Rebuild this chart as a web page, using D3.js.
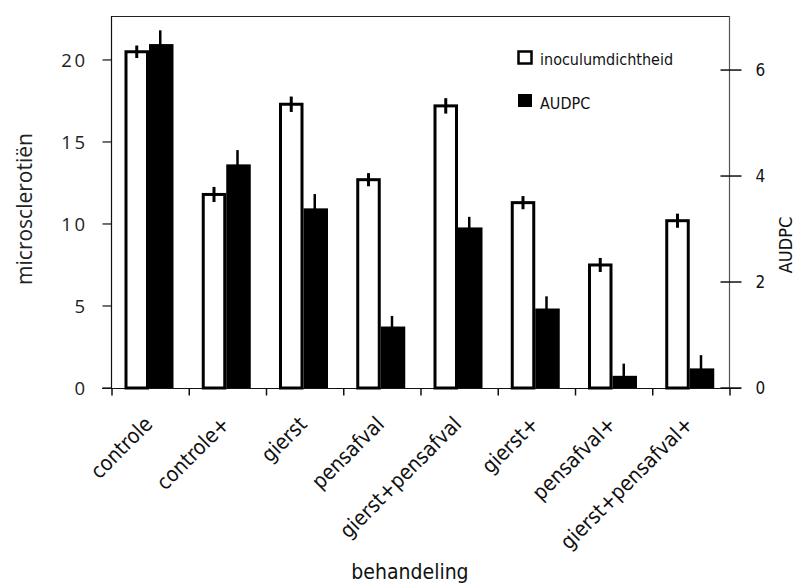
<!DOCTYPE html>
<html>
<head>
<meta charset="utf-8">
<script src="https://cdn.jsdelivr.net/npm/d3@7"></script>
<style>
  body { margin: 0; background: #fff; }
  svg { display: block; }
</style>
</head>
<body>
<div id="chart"></div>
<script>
// behandeling categories
const categories = ["controle", "controle+", "gierst", "pensafval", "gierst+pensafval", "gierst+", "pensafval+", "gierst+pensafval+"];
// inoculumdichtheid (microsclerotiën, left axis)
const inoculum = [20.5, 11.8, 17.3, 12.7, 17.2, 11.3, 7.5, 10.2];
const inoculumErr = [0.38, 0.46, 0.47, 0.4, 0.47, 0.4, 0.43, 0.43];
// AUDPC (right axis)
const audpc = [6.49, 4.22, 3.39, 1.16, 3.03, 1.5, 0.23, 0.37];
const audpcErr = [0.26, 0.27, 0.27, 0.2, 0.2, 0.23, 0.23, 0.25];
const leftTicks = [0, 5, 10, 15, 20];
const rightTicks = [0, 2, 4, 6];

const W = 798, H = 586;
const plot = { left: 111, right: 729, top: 16, bottom: 388 };
const condensed = "'DejaVu Sans Condensed', 'DejaVu Sans', sans-serif";
const calib = "'Open Sans', 'Noto Sans', sans-serif";

const svg = d3.select("#chart").append("svg")
  .attr("width", W).attr("height", H);

const x = d3.scaleBand()
  .domain(categories)
  .range([plot.left + 1, plot.right + 1])
  .paddingInner(0).paddingOuter(0);

const yL = d3.scaleLinear().domain([0, 22.68]).range([plot.bottom, plot.top]);
const yR = d3.scaleLinear().domain([0, 7.02]).range([plot.bottom, plot.top]);

// frame top line
svg.append("line")
  .attr("x1", plot.left).attr("x2", plot.right)
  .attr("y1", plot.top + 0.5).attr("y2", plot.top + 0.5)
  .attr("stroke", "#222").attr("stroke-width", 1);

// left axis
const gL = svg.append("g").attr("transform", `translate(${plot.left + 0.5},0)`);
gL.append("line").attr("y1", plot.top).attr("y2", plot.bottom)
  .attr("stroke", "#111").attr("stroke-width", 1.2);
gL.selectAll(".tk").data(leftTicks).enter().append("line")
  .attr("x1", -9).attr("x2", 0)
  .attr("y1", d => yL(d)).attr("y2", d => yL(d))
  .attr("stroke", "#111").attr("stroke-width", 1.2);
gL.selectAll(".lb").data(leftTicks).enter().append("text")
  .attr("x", -24).attr("y", d => yL(d)).attr("dy", "0.36em")
  .attr("text-anchor", "end")
  .style("font-family", calib).style("font-size", "18.5px")
  .style("letter-spacing", "2.5px")
  .attr("fill", "#222")
  .text(d => d);

// right axis
const gR = svg.append("g").attr("transform", `translate(${plot.right + 0.5},0)`);
gR.append("line").attr("y1", plot.top).attr("y2", plot.bottom)
  .attr("stroke", "#555").attr("stroke-width", 1.2);
gR.selectAll(".tk").data(rightTicks).enter().append("line")
  .attr("x1", -9).attr("x2", 12)
  .attr("y1", d => yR(d)).attr("y2", d => yR(d))
  .attr("stroke", "#111").attr("stroke-width", 1.5);
gR.selectAll(".lb").data(rightTicks).enter().append("text")
  .attr("x", 26).attr("y", d => yR(d)).attr("dy", "0.36em")
  .style("font-family", condensed).style("font-size", "17px")
  .attr("fill", "#111")
  .text(d => d);

// bottom axis
const gB = svg.append("g").attr("transform", `translate(0,${plot.bottom + 0.5})`);
gB.append("line").attr("x1", plot.left - 9).attr("x2", plot.right + 12)
  .attr("stroke", "#111").attr("stroke-width", 1.2);
const bounds = categories.map(c => x(c)).concat([x.range()[1]]);
gB.selectAll(".tk").data(bounds).enter().append("line")
  .attr("x1", d => d).attr("x2", d => d)
  .attr("y1", 0).attr("y2", 7)
  .attr("stroke", "#111").attr("stroke-width", 1.5);
gB.selectAll(".lb").data(categories).enter().append("text")
  .attr("transform", d => `translate(${x(d) + x.bandwidth() / 2 + 3},${37}) rotate(-45)`)
  .attr("text-anchor", "end")
  .style("font-family", condensed).style("font-size", "21px")
  .attr("fill", "#111")
  .text(d => d);

// bars
const bw = 24.5, off = 12.5;
const groups = svg.append("g").selectAll("g").data(categories).enter().append("g")
  .attr("transform", d => `translate(${x(d)},0)`);

groups.append("rect")
  .attr("x", off + 1.5)
  .attr("y", (d, i) => yL(inoculum[i]))
  .attr("width", bw - 3)
  .attr("height", (d, i) => yL(0) - yL(inoculum[i]))
  .attr("fill", "#fff").attr("stroke", "#000").attr("stroke-width", 3);

groups.append("rect")
  .attr("x", off + bw)
  .attr("y", (d, i) => yR(audpc[i]))
  .attr("width", bw)
  .attr("height", (d, i) => yR(0) - yR(audpc[i]))
  .attr("fill", "#000");

groups.append("line")
  .attr("x1", off + bw / 2).attr("x2", off + bw / 2)
  .attr("y1", (d, i) => yL(inoculum[i] + inoculumErr[i]))
  .attr("y2", (d, i) => yL(inoculum[i] - inoculumErr[i]))
  .attr("stroke", "#000").attr("stroke-width", 3);

groups.append("line")
  .attr("x1", off + bw * 1.5 - 1).attr("x2", off + bw * 1.5 - 1)
  .attr("y1", (d, i) => yR(audpc[i] + audpcErr[i]))
  .attr("y2", (d, i) => yR(audpc[i] - audpcErr[i]))
  .attr("stroke", "#000").attr("stroke-width", 2.5);

// legend
const leg = svg.append("g");
leg.append("rect").attr("x", 518.5).attr("y", 51.5).attr("width", 13).attr("height", 12)
  .attr("fill", "#fff").attr("stroke", "#000").attr("stroke-width", 2.5);
leg.append("text").attr("x", 540).attr("y", 65)
  .style("font-family", condensed).style("font-size", "16px").attr("fill", "#111")
  .text("inoculumdichtheid");
leg.append("rect").attr("x", 518).attr("y", 94).attr("width", 14).attr("height", 13)
  .attr("fill", "#000");
leg.append("text").attr("x", 540).attr("y", 109)
  .style("font-family", condensed).style("font-size", "16px").attr("fill", "#111")
  .text("AUDPC");

// axis titles
svg.append("text")
  .attr("transform", `translate(32,209) rotate(-90)`)
  .attr("text-anchor", "middle")
  .style("font-family", calib).style("font-size", "21px").attr("fill", "#222")
  .text("microsclerotiën");

svg.append("text")
  .attr("transform", `translate(792,245) rotate(-90)`)
  .attr("text-anchor", "middle")
  .style("font-family", condensed).style("font-size", "18px").attr("fill", "#111")
  .text("AUDPC");

svg.append("text")
  .attr("x", 410).attr("y", 579)
  .attr("text-anchor", "middle")
  .style("font-family", condensed).style("font-size", "21px").attr("fill", "#111")
  .text("behandeling");
</script>
</body>
</html>
